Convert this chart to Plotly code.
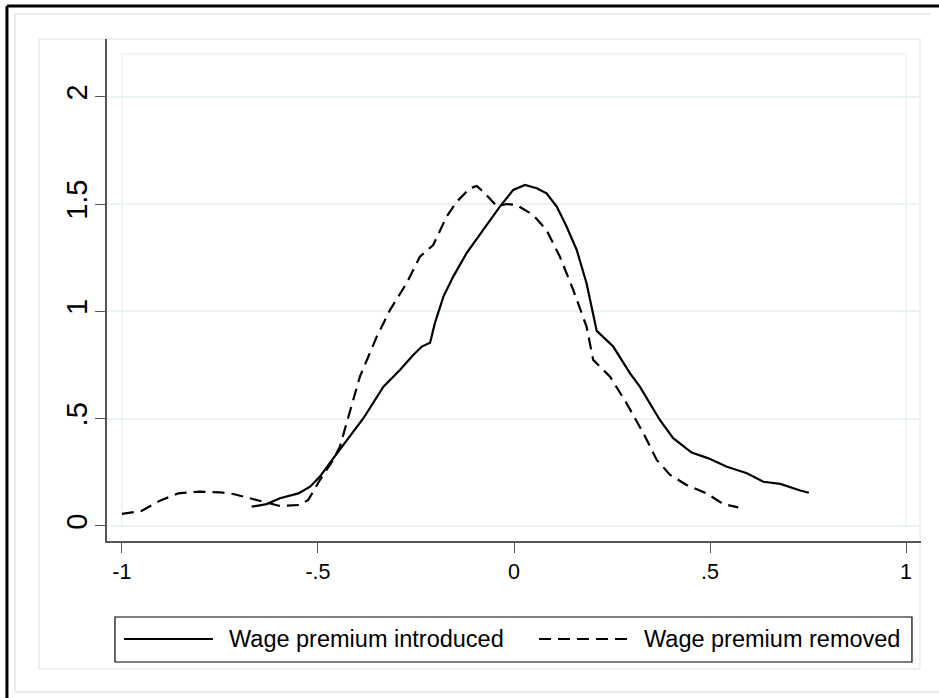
import plotly.graph_objects as go

# Data
introduced_x = [-0.669, -0.631, -0.597, -0.550, -0.520, -0.495, -0.461, -0.427, -0.384, -0.333,
                -0.291, -0.257, -0.235, -0.214, -0.202, -0.180, -0.155, -0.121, -0.078, -0.036,
                -0.002, 0.028, 0.058, 0.083, 0.109, 0.134, 0.160, 0.185, 0.211, 0.253,
                0.296, 0.321, 0.372, 0.406, 0.453, 0.496, 0.543, 0.594, 0.636, 0.679,
                0.730, 0.752]
introduced_y = [0.090, 0.102, 0.129, 0.152, 0.183, 0.230, 0.315, 0.400, 0.502, 0.649,
                0.727, 0.797, 0.836, 0.854, 0.944, 1.069, 1.162, 1.271, 1.379, 1.488,
                1.566, 1.589, 1.574, 1.550, 1.488, 1.395, 1.286, 1.131, 0.909, 0.836,
                0.711, 0.649, 0.494, 0.409, 0.342, 0.315, 0.276, 0.246, 0.206, 0.196,
                0.165, 0.155]

removed_x = [-1.0, -0.95, -0.903, -0.856, -0.801, -0.75, -0.716, -0.673, -0.631, -0.597,
             -0.546, -0.525, -0.495, -0.461, -0.444, -0.418, -0.393, -0.350, -0.316, -0.274,
             -0.240, -0.206, -0.172, -0.146, -0.112, -0.095, -0.074, -0.044, -0.018, 0.007,
             0.049, 0.083, 0.117, 0.151, 0.185, 0.202, 0.245, 0.287, 0.330, 0.364,
             0.398, 0.440, 0.491, 0.534, 0.572]
removed_y = [0.056, 0.070, 0.118, 0.152, 0.160, 0.157, 0.149, 0.129, 0.106, 0.093,
             0.098, 0.121, 0.214, 0.308, 0.370, 0.541, 0.696, 0.882, 1.007, 1.131,
             1.255, 1.309, 1.441, 1.511, 1.574, 1.584, 1.550, 1.490, 1.500, 1.495,
             1.449, 1.379, 1.255, 1.100, 0.929, 0.774, 0.696, 0.572, 0.432, 0.308,
             0.238, 0.191, 0.152, 0.102, 0.087]

x_ticks = [-1, -0.5, 0, 0.5, 1]
x_tick_labels = ["-1", "-.5", "0", ".5", "1"]
y_ticks = [0, 0.5, 1, 1.5, 2]
y_tick_labels = ["0", ".5", "1", "1.5", "2"]
series_names = ["Wage premium introduced", "Wage premium removed"]

FONT = "Arial, Liberation Sans, sans-serif"
GRID = "#eaf2f3"
FRAME = "#e6edf0"
DASH = "12px,7px"
XR = (939 - 107) / 814  # right edge of the canvas in paper units

fig = go.Figure()
fig.add_trace(go.Scatter(x=introduced_x, y=introduced_y, mode="lines", name=series_names[0],
                         line=dict(color="black", width=2.2), showlegend=False))
fig.add_trace(go.Scatter(x=removed_x, y=removed_y, mode="lines", name=series_names[1],
                         line=dict(color="black", width=2.2, dash=DASH), showlegend=False))


def pline(x0, y0, x1, y1, color, width, dash=None, layer="below"):
    ln = dict(color=color, width=width)
    if dash:
        ln["dash"] = dash
    return dict(type="line", xref="paper", yref="paper", x0=x0, y0=y0, x1=x1, y1=y1,
                line=ln, layer=layer)


shapes = [
    # outer black frame (left and top edges visible)
    pline(-0.1229, -0.3137, -0.1229, 1.0657, "black", 3),
    # light outer frame (left, top edges)
    pline(-0.1130, -0.3008, -0.1130, 1.0498, FRAME, 2),
    pline(-0.1130, 1.0498, XR, 1.0498, FRAME, 2),
    # graph region frame
    dict(type="rect", xref="paper", yref="paper", x0=-0.0835, x1=0.9988, y0=-0.2550, y1=1.0,
         line=dict(color=FRAME, width=1.5), layer="below"),
    # plot region frame
    dict(type="rect", xref="x", yref="y", x0=-1, x1=1, y0=0, y1=2.2,
         line=dict(color=GRID, width=1.5), layer="below"),
    # legend box
    dict(type="rect", xref="paper", yref="paper", x0=0.0098, x1=0.9889, y0=-0.2410, y1=-0.1514,
         line=dict(color="black", width=1.2), fillcolor="white", layer="below"),
    # clean right margin strip
    dict(type="rect", xref="paper", yref="paper", x0=1.0111, x1=1.04, y0=-0.33, y1=1.0598,
         line=dict(width=0), fillcolor="white", layer="above"),
    pline(-0.1229, 1.0657, XR + 0.01, 1.0657, "black", 3, layer="above"),
    pline(-0.1130, -0.3008, XR + 0.01, -0.3008, FRAME, 2, layer="above"),
    # legend keys
    pline(0.0209, -0.1952, 0.1302, -0.1952, "black", 2.2, layer="above"),
    pline(0.5307, -0.1952, 0.6401, -0.1952, "black", 2.2, dash=DASH, layer="above"),
]

annotations = [
    dict(text=series_names[0], xref="paper", yref="paper", x=0.1474, y=-0.1952,
         xanchor="left", yanchor="middle", showarrow=False, font=dict(size=23.5, family=FONT)),
    dict(text=series_names[1], xref="paper", yref="paper", x=0.6572, y=-0.1952,
         xanchor="left", yanchor="middle", showarrow=False, font=dict(size=23.5, family=FONT)),
]

fig.update_layout(
    width=939, height=698,
    margin=dict(l=107, r=18, t=39, b=157),
    paper_bgcolor="white", plot_bgcolor="white",
    font=dict(family=FONT, color="black", size=21),
    shapes=shapes, annotations=annotations,
    showlegend=False,
    xaxis=dict(range=[-1.038, 1.038], tickvals=x_ticks, ticktext=x_tick_labels,
               showgrid=False, zeroline=False, showline=True, linecolor="#555", linewidth=1.6,
               ticks="outside", ticklen=10, tickwidth=1.4, tickcolor="#555",
               tickfont=dict(size=21.5)),
    yaxis=dict(range=[-0.070, 2.269], tickvals=y_ticks, ticktext=y_tick_labels,
               showgrid=True, gridcolor=GRID, gridwidth=1.5, zeroline=False,
               showline=True, linecolor="#555", linewidth=1.6,
               ticks="outside", ticklen=10, tickwidth=1.4, tickcolor="#555",
               tickangle=-90, tickfont=dict(size=29), ticklabelstandoff=-3),
)

fig.write_html("out.html", config={"displayModeBar": False},
               post_script=("document.documentElement.style.overflow='hidden';"
                            "document.body.style.margin='0px';"
                            "document.body.style.overflow='hidden';"))
